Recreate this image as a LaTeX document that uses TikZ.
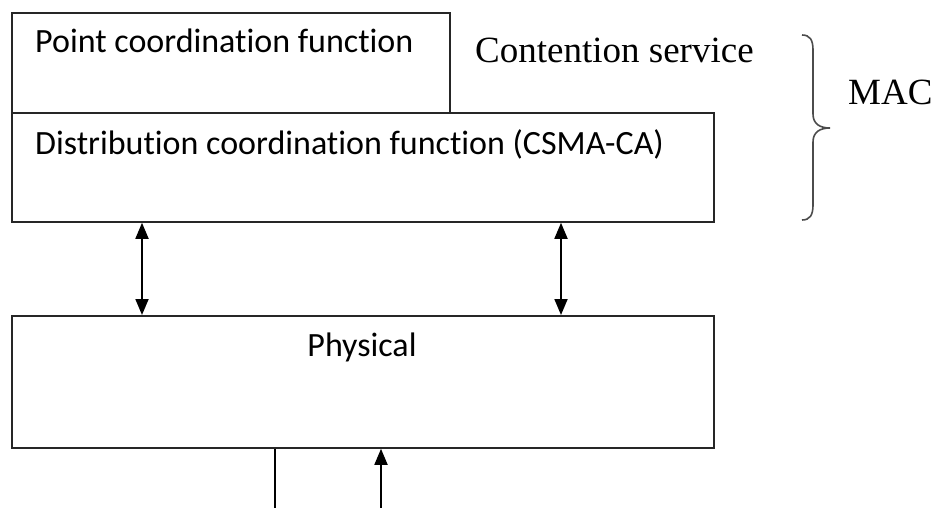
\documentclass[tikz,border=0pt]{standalone}
\usepackage{fontspec}
\setmainfont{Liberation Serif}
\setsansfont{Carlito}[Ligatures=NoCommon]
\usetikzlibrary{arrows.meta,positioning}

\tikzset{
  layer/.style={draw=black!85, line width=1.8pt, fill=white, anchor=north west,
                inner sep=0pt},
  lbl/.style={font=\sffamily\fontsize{34}{39}\selectfont, inner sep=0pt},
  side/.style={font=\rmfamily\fontsize{37}{42}\selectfont, inner sep=0pt},
  dbl/.style={line width=1.8pt, {Triangle[length=16pt,width=13pt]}-{Triangle[length=16pt,width=13pt]}},
  up/.style={line width=1.8pt, -{Triangle[length=16pt,width=13pt]}}
}

\begin{document}
\begin{tikzpicture}[x=1pt, y=-1pt]
  \useasboundingbox (0,0) rectangle (934,508);

  % MAC sublayers and the physical layer
  \node[layer, minimum width=438pt, minimum height=100pt] (pcf) at (11,12) {};
  \node[layer, minimum width=702pt, minimum height=109pt] (dcf) at (11,112) {};
  \node[layer, minimum width=702pt, minimum height=132pt] (phy) at (11,315) {};

  \node[lbl, anchor=base west] (pcftxt) at (35,53) {Point coordination function};
  \node[lbl, anchor=base west] (dcftxt) at (35,154) {Distribution coordination function (CSMA-CA)};
  \node[lbl, anchor=base] (phytxt) at (362,356) {Physical};

  % links between DCF and physical
  \draw[dbl] (dcf.south -| 142,0) -- (phy.north -| 142,0);
  \draw[dbl] (dcf.south -| 561,0) -- (phy.north -| 561,0);

  % lines leaving the physical layer
  \coordinate (out) at (275,508);
  \coordinate (in) at (381,508);
  \draw[line width=1.8pt] (phy.south -| out) -- (out);
  \draw[up] (in) -- (phy.south -| in);

  % brace around the MAC
  \node[side, anchor=base west] (cs) at (475,63) {Contention service};
  \draw[black!70, line width=1.6pt]
    (802,35) .. controls (810,35) and (813,40) .. (813,50) -- (813,114)
    .. controls (813,124) and (820,128) .. (830,128)
    .. controls (820,128) and (813,132) .. (813,142) -- (813,205)
    .. controls (813,215) and (810,220) .. (802,220);
  \node[side, anchor=base west] (mac) at (848,105) {MAC};
\end{tikzpicture}
\end{document}
